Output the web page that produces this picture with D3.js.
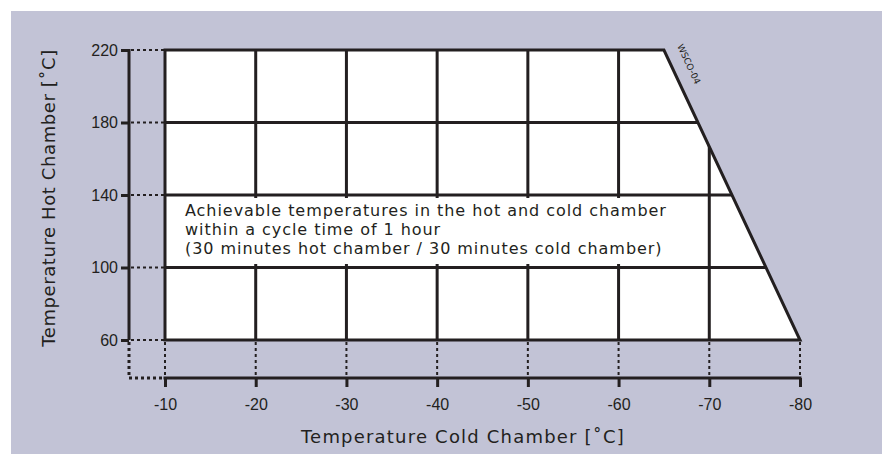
<!DOCTYPE html>
<html>
<head>
<meta charset="utf-8">
<script src="https://cdn.jsdelivr.net/npm/d3@7"></script>
<style>
  body { margin: 0; background: #fff; }
  svg { display: block; }
</style>
</head>
<body>
<script>
// chart data
var xTicks = [-10, -20, -30, -40, -50, -60, -70, -80];
var yTicks = [60, 100, 140, 180, 220];
// boundary of achievable area (cold, hot)
var envelopeCold = [-10, -10, -65, -80];
var envelopeHot = [60, 220, 220, 60];
var gridCold = [-20, -30, -40, -50, -60, -70];
var gridHot = [100, 140, 180];
var noteLines = [
  "Achievable temperatures in the hot and cold chamber",
  "within a cycle time of 1 hour",
  "(30 minutes hot chamber / 30 minutes cold chamber)"
];

var width = 882, height = 454;
var ink = "#231f20";

var x = d3.scaleLinear().domain([-10, -80]).range([165, 800]);
var y = d3.scaleLinear().domain([60, 220]).range([340, 50]);

var svg = d3.select("body").append("svg")
    .attr("width", width)
    .attr("height", height);

// panel background
svg.append("rect")
    .attr("x", 11).attr("y", 11)
    .attr("width", width - 11).attr("height", height - 11)
    .attr("fill", "#c2c3d6");

var pts = envelopeCold.map(function (c, i) { return [x(c), y(envelopeHot[i])]; });
var ptStr = pts.map(function (p) { return p.join(","); }).join(" ");

svg.append("clipPath").attr("id", "env")
    .append("polygon")
    .attr("points", ptStr);

// white area
svg.append("polygon")
    .attr("points", ptStr)
    .attr("fill", "#fff");

// grid, clipped to the area
var grid = svg.append("g").attr("clip-path", "url(#env)")
    .attr("stroke", ink).attr("stroke-width", 3);

grid.selectAll(".v").data(gridCold).enter().append("line")
    .attr("x1", function (d) { return x(d); })
    .attr("x2", function (d) { return x(d); })
    .attr("y1", y(220)).attr("y2", y(60));

grid.selectAll(".h").data(gridHot).enter().append("line")
    .attr("x1", x(-10)).attr("x2", x(-80))
    .attr("y1", function (d) { return y(d); })
    .attr("y2", function (d) { return y(d); });

// note box
svg.append("rect")
    .attr("x", 176).attr("y", 198)
    .attr("width", 524).attr("height", 66)
    .attr("fill", "#fff");

svg.append("text")
    .attr("font-family", "DejaVu Sans")
    .attr("font-size", 16)
    .attr("letter-spacing", 0.95)
    .attr("fill", ink)
    .selectAll("tspan").data(noteLines).enter().append("tspan")
    .attr("x", 185)
    .attr("y", function (d, i) { return 216 + i * 19; })
    .text(function (d) { return d; });

// outline
svg.append("polygon")
    .attr("points", ptStr)
    .attr("fill", "none")
    .attr("stroke", ink).attr("stroke-width", 3)
    .attr("stroke-linejoin", "miter");

// dotted guides
var dots = svg.append("g")
    .attr("stroke", ink).attr("stroke-width", 2)
    .attr("stroke-dasharray", "3,3").attr("fill", "none");

dots.selectAll(".hy").data(yTicks).enter().append("line")
    .attr("x1", 131).attr("x2", x(-10))
    .attr("y1", function (d) { return y(d); })
    .attr("y2", function (d) { return y(d); });

dots.selectAll(".vx").data(xTicks).enter().append("line")
    .attr("x1", function (d) { return x(d); })
    .attr("x2", function (d) { return x(d); })
    .attr("y1", y(60) + 2).attr("y2", 377);

dots.append("path")
    .attr("stroke-width", 3)
    .attr("d", "M129," + (y(60) + 2) + "V378H" + (x(-10) - 2));

// y axis
var yAxis = svg.append("g")
    .attr("transform", "translate(129,0)")
    .call(d3.axisLeft(y).tickValues(yTicks).tickSize(8).tickSizeOuter(0).tickPadding(3));
yAxis.select(".domain").attr("stroke", ink).attr("stroke-width", 3)
    .attr("d", "M0," + (y(220) - 1) + "V" + y(60));
yAxis.selectAll(".tick line").attr("stroke", ink).attr("stroke-width", 3);
yAxis.selectAll(".tick text")
    .attr("font-family", "Liberation Sans").attr("font-size", 16).attr("fill", ink);

// x axis
var xAxis = svg.append("g")
    .attr("transform", "translate(0,378)")
    .call(d3.axisBottom(x).tickValues(xTicks).tickSize(9).tickSizeOuter(0).tickPadding(12)
        .tickFormat(function (d) { return String(d); }));
xAxis.select(".domain").attr("stroke", ink).attr("stroke-width", 3)
    .attr("d", "M" + (x(-10) - 1.5) + ",0H" + (x(-80) + 1.5));
xAxis.selectAll(".tick line").attr("stroke", ink).attr("stroke-width", 3);
xAxis.selectAll(".tick text")
    .attr("font-family", "Liberation Sans").attr("font-size", 16).attr("fill", ink);

// axis titles
svg.append("text")
    .attr("x", 463).attr("y", 443)
    .attr("text-anchor", "middle")
    .attr("font-family", "DejaVu Sans").attr("font-size", 18)
    .attr("letter-spacing", 1.2)
    .attr("fill", ink)
    .text("Temperature Cold Chamber [˚C]");

svg.append("text")
    .attr("transform", "translate(55,198) rotate(-90)")
    .attr("text-anchor", "middle")
    .attr("font-family", "DejaVu Sans").attr("font-size", 18)
    .attr("letter-spacing", 0.6)
    .attr("fill", ink)
    .text("Temperature Hot Chamber [˚C]");

// drawing code
svg.append("text")
    .attr("transform", "translate(677,46) rotate(65)")
    .attr("font-family", "DejaVu Sans").attr("font-size", 9)
    .attr("fill", ink)
    .text("WSCO-04");
</script>
</body>
</html>
